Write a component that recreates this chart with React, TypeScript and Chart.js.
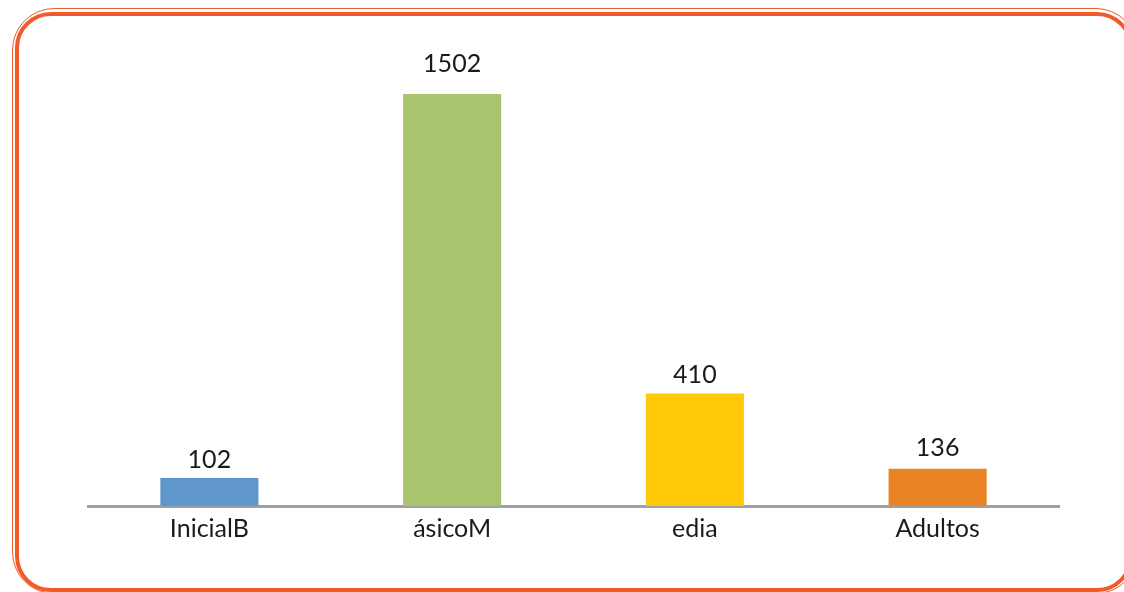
import React, { useEffect, useRef } from "react";
import { Chart, registerables } from "chart.js";

Chart.register(...registerables);

const categories = ["InicialB", "ásicoM", "edia", "Adultos"];
const values = [102, 1502, 410, 136];
const barColors = ["#5F96CB", "#A9C46F", "#FFC90A", "#E98326"];

const FONT = "'Lato', 'Open Sans', sans-serif";
const labelGaps = [18, 30, 19, 21];

const valueLabels = {
  id: "valueLabels",
  afterDatasetsDraw(chart: any) {
    const ctx = chart.ctx;
    const meta = chart.getDatasetMeta(0);
    ctx.save();
    ctx.font = `25px ${FONT}`;
    ctx.fillStyle = "#1a1a1a";
    ctx.textAlign = "center";
    ctx.textBaseline = "middle";
    meta.data.forEach((bar: any, i: number) => {
      ctx.fillText(String(values[i]), bar.x, bar.y - labelGaps[i]);
    });
    ctx.restore();
  },
};

export default function App() {
  const ref = useRef<HTMLCanvasElement | null>(null);
  useEffect(() => {
    if (!ref.current) return;
    const chart = new Chart(ref.current, {
      type: "bar",
      data: {
        labels: categories,
        datasets: [
          {
            data: values,
            backgroundColor: barColors,
            barPercentage: 0.404,
            categoryPercentage: 1,
          },
        ],
      },
      options: {
        animation: false,
        responsive: false,
        maintainAspectRatio: false,
        layout: { padding: { left: 88, right: 65, top: 67, bottom: 40 } },
        plugins: { legend: { display: false }, tooltip: { enabled: false } },
        scales: {
          x: {
            grid: { display: false, drawTicks: false },
            border: { display: true, color: "#A0A0A0", width: 3 },
            ticks: { color: "#1a1a1a", font: { size: 25, family: FONT }, padding: 8 },
          },
          y: {
            display: false,
            min: 0,
            max: 1600,
          },
        },
      },
      plugins: [valueLabels],
    });
    return () => chart.destroy();
  }, []);

  return (
    <div style={{ position: "fixed", left: 0, top: 0, width: 1124, height: 592, background: "#fff", overflow: "hidden" }}>
      <div
        style={{
          position: "absolute",
          left: 12,
          top: 8,
          width: 1126,
          height: 586,
          border: "1.5px solid #F15A29",
          borderRadius: 42,
          boxSizing: "border-box",
        }}
      />
      <div
        style={{
          position: "absolute",
          left: 15,
          top: 12,
          width: 1118,
          height: 580,
          border: "4px solid #F15A29",
          borderRadius: 36,
          boxSizing: "border-box",
        }}
      />
      <canvas ref={ref} width={1124} height={592} style={{ position: "absolute", left: 0, top: 0 }} />
    </div>
  );
}
